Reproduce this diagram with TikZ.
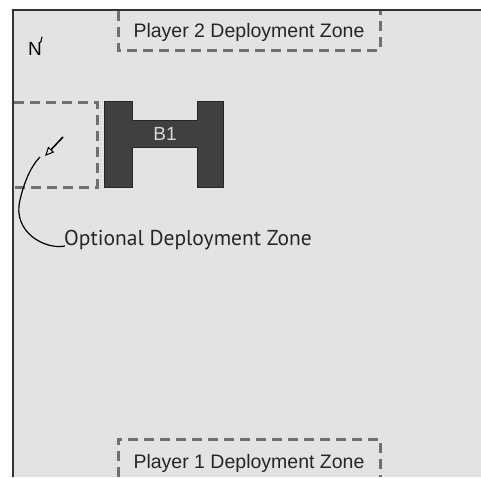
\documentclass[tikz,border=0pt]{standalone}
\usepackage{fontspec}
\setmainfont{Liberation Sans}
\newfontfamily\humfont{PT Sans}
\usetikzlibrary{arrows.meta}
\definecolor{board}{HTML}{E3E3E3}
\definecolor{zonegray}{HTML}{707070}
\definecolor{bldg}{HTML}{404040}
\tikzset{
  zone/.style={draw=zonegray, line width=3pt, dash pattern=on 10pt off 6pt},
  lbl/.style={font=\fontsize{19.5}{22}\selectfont, text=black!85, inner sep=0pt},
}
\begin{document}
\begin{tikzpicture}[x=1pt,y=-1pt]
\useasboundingbox (0,0) rectangle (481,477);
\fill[white] (0,0) rectangle (481,477);
\fill[board] (13,10) rectangle (481,477);
% board edges
\draw[line width=2pt, black!80] (481,10) -- (13,10) -- (13,477);
% deployment zones
\draw[zone] (118,11) -- (118,50) -- (380,50) -- (380,11);
\draw[zone] (118,477) -- (118,439) -- (380,439) -- (380,477);
\draw[zone] (14,102) -- (97,102) -- (97,187) -- (14,187);
\node[lbl, anchor=base] (p2) at (249,37) {Player 2 Deployment Zone};
\node[lbl, anchor=base] (p1) at (249,468) {Player 1 Deployment Zone};
% building B1
\draw[fill=bldg, draw=black!85, line width=0.8pt]
  (104,101) -- (132,101) -- (132,120) -- (197,120) -- (197,101) -- (223,101)
  -- (223,187) -- (197,187) -- (197,147) -- (132,147) -- (132,187) -- (104,187) -- cycle;
\node[lbl, text=white!85!black, font=\fontsize{19}{22}\selectfont] (b1) at (165,134) {B1};
% north marker
\node[font=\fontsize{19}{22}\selectfont, inner sep=0pt, anchor=base] (n) at (35,55) {N};
\draw[line width=1.2pt] ([xshift=-1.5pt,yshift=-1pt]n.north east) -- ++(1.5,-6);
% optional zone label and pointer
\node[font=\humfont\fontsize{21.5}{24}\selectfont, text=black!85, inner sep=0pt, anchor=base west] (opt) at (64,245) {Optional Deployment Zone};
\coordinate (tipA) at (63,137);
\coordinate (tipB) at (45,156);
\draw[line width=1.6pt, -{Triangle[open, length=9pt, width=8pt, line width=1pt]}] (tipA) -- (tipB);
\draw[line width=1.2pt] ([xshift=1pt,yshift=-1pt]opt.base west) .. controls (45,250) and (12,232) .. (20,200)
   .. controls (25,178) and (33,164) .. (40,157);
\end{tikzpicture}
\end{document}
